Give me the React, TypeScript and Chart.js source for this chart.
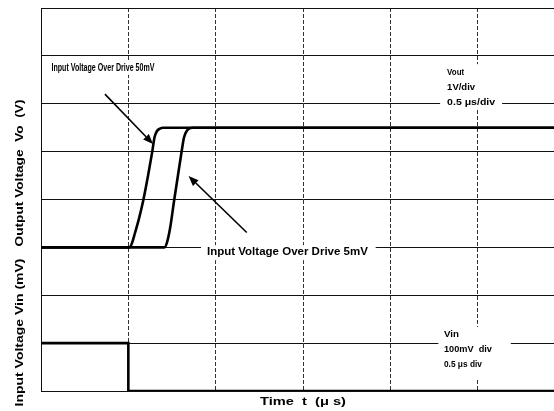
import React, { useEffect, useRef } from "react";
import { Chart, registerables } from "chart.js";

Chart.register(...registerables);

// Time axis (µs), 0.5 µs/div
const timeMinUs = 0;
const timeMaxUs = 3.0;
const timeStepUs = 0.5;

// Output voltage axis (V), 1 V/div
const voutMin = -3;
const voutMax = 5;
const voutStep = 1;

// Input voltage axis (mV), 100 mV/div
const vinMin = 0;
const vinMax = 800;

// Output waveform, input over-drive 50 mV
const od50Time = [0, 0.507, 0.521, 0.538, 0.561, 0.586, 0.613, 0.637, 0.65, 0.664, 0.681, 0.698, 3.0];
const od50Vout = [0, 0, 0.09, 0.3, 0.6, 0.99, 1.5, 2.0, 2.3, 2.43, 2.48, 2.5, 2.5];

// Output waveform, input over-drive 5 mV
const od5Time = [0, 0.707, 0.721, 0.739, 0.763, 0.784, 0.805, 0.819, 0.836, 0.853, 0.87, 3.0];
const od5Vout = [0, 0, 0.1, 0.4, 1.0, 1.5, 2.0, 2.3, 2.44, 2.49, 2.5, 2.5];

// Input step
const vinTime = [0, 0.5, 0.5, 3.0];
const vinMv = [100, 100, 0, 0];

const FONT = "'Liberation Sans', Arial, sans-serif";

function fitText(
  ctx: CanvasRenderingContext2D,
  text: string,
  x: number,
  y: number,
  width: number,
  size: number,
  align: "left" | "center" = "left",
  rotate = false
) {
  ctx.save();
  ctx.font = `bold ${size}px ${FONT}`;
  const w = ctx.measureText(text).width;
  const s = width / w;
  ctx.translate(x, y);
  if (rotate) ctx.rotate(-Math.PI / 2);
  ctx.scale(s, 1);
  ctx.textBaseline = "middle";
  ctx.textAlign = align;
  ctx.fillStyle = "#000";
  ctx.fillText(text, 0, 0);
  ctx.restore();
}

function arrow(ctx: CanvasRenderingContext2D, x1: number, y1: number, x2: number, y2: number) {
  const ang = Math.atan2(y2 - y1, x2 - x1);
  const len = 10;
  const hw = 4;
  const bx = x2 - len * Math.cos(ang);
  const by = y2 - len * Math.sin(ang);
  ctx.save();
  ctx.strokeStyle = "#000";
  ctx.fillStyle = "#000";
  ctx.lineWidth = 1.6;
  ctx.beginPath();
  ctx.moveTo(x1, y1);
  ctx.lineTo(bx, by);
  ctx.stroke();
  ctx.beginPath();
  ctx.moveTo(x2, y2);
  ctx.lineTo(bx + hw * Math.sin(ang), by - hw * Math.cos(ang));
  ctx.lineTo(bx - hw * Math.sin(ang), by + hw * Math.cos(ang));
  ctx.closePath();
  ctx.fill();
  ctx.restore();
}

const annotate = {
  id: "annotate",
  beforeDatasetsDraw(chart: any) {
    const ctx: CanvasRenderingContext2D = chart.ctx;
    const xs = chart.scales.x;
    const yo = chart.scales.yOut;
    const yi = chart.scales.yIn;
    const X = (t: number) => xs.getPixelForValue(t);
    const YO = (v: number) => yo.getPixelForValue(v);
    const YI = (v: number) => yi.getPixelForValue(v);

    // white label backgrounds (break the grid like the original)
    ctx.save();
    ctx.fillStyle = "#fff";
    const box = (l: number, t: number, r: number, b: number) => ctx.fillRect(l, t, r - l, b - t);
    box(X(0.05) - 2, YO(3.75) - 7, X(0.05) + 106, YO(3.75) + 7);
    box(X(0.916), YO(-0.1) - 7, X(1.916), YO(-0.1) + 8);
    box(X(2.285), YO(3.66) - 8, X(2.64), YO(3.02) + 7);
    box(X(2.275), YI(119) - 7, X(2.69), YI(55) + 14);
    ctx.restore();

    // in-plot labels
    fitText(ctx, "Input Voltage Over Drive 50mV", X(0.06), YO(3.75), 103, 10.5);
    fitText(ctx, "Input Voltage Over Drive 5mV", X(0.95), YO(-0.1), 161, 10.5);

    fitText(ctx, "Vout", X(2.325), YO(3.66), 17, 9);
    fitText(ctx, "1V/div", X(2.325), YO(3.34), 28, 9);
    fitText(ctx, "0.5 μs/div", X(2.325), YO(3.02), 48, 9);

    fitText(ctx, "Vin", X(2.307), YI(119), 15, 9);
    fitText(ctx, "100mV  div", X(2.307), YI(86.7), 48, 9);
    fitText(ctx, "0.5 μs div", X(2.307), YI(55.4), 38, 9);

    // axis titles
    fitText(ctx, "Output Voltage  Vo  (V)", 20, 173, 147, 11, "center", true);
    fitText(ctx, "Input Voltage Vin (mV)", 20, 332.5, 148, 11, "center", true);
    fitText(ctx, "Time  t  (μ s)", 303, 402, 86, 11, "center");
  },
  afterDatasetsDraw(chart: any) {
    const ctx: CanvasRenderingContext2D = chart.ctx;
    const xs = chart.scales.x;
    const yo = chart.scales.yOut;
    const X = (t: number) => xs.getPixelForValue(t);
    const YO = (v: number) => yo.getPixelForValue(v);
    arrow(ctx, X(0.366), YO(3.2), X(0.641), YO(2.16));
    arrow(ctx, X(1.178), YO(0.31), X(0.845), YO(1.49));
  },
};

export default function App() {
  const ref = useRef<HTMLCanvasElement | null>(null);

  useEffect(() => {
    if (!ref.current) return;
    const pts = (xs: number[], ys: number[]) => xs.map((x, i) => ({ x, y: ys[i] }));
    const chart = new Chart(ref.current, {
      type: "line",
      data: {
        datasets: [
          {
            label: "Vout (over drive 50mV)",
            data: pts(od50Time, od50Vout),
            yAxisID: "yOut",
            borderColor: "#000",
            borderWidth: 2.6,
            pointRadius: 0,
            cubicInterpolationMode: "monotone",
          },
          {
            label: "Vout (over drive 5mV)",
            data: pts(od5Time, od5Vout),
            yAxisID: "yOut",
            borderColor: "#000",
            borderWidth: 2.6,
            pointRadius: 0,
            cubicInterpolationMode: "monotone",
          },
          {
            label: "Vin",
            data: pts(vinTime, vinMv),
            yAxisID: "yIn",
            borderColor: "#000",
            borderWidth: 2.6,
            pointRadius: 0,
            tension: 0,
          },
        ],
      },
      options: {
        animation: false,
        responsive: false,
        maintainAspectRatio: false,
        layout: { padding: { left: 41, right: 10, top: 8, bottom: 20 } },
        plugins: { legend: { display: false }, tooltip: { enabled: false } },
        scales: {
          x: {
            type: "linear",
            min: timeMinUs,
            max: timeMaxUs,
            ticks: { stepSize: timeStepUs, display: false },
            grid: { color: "#333", lineWidth: 1, drawTicks: false },
            border: { display: true, color: "#111", width: 1, dash: [4, 2] },
          },
          yOut: {
            type: "linear",
            position: "left",
            min: voutMin,
            max: voutMax,
            ticks: { stepSize: voutStep, display: false },
            grid: { color: "#111", lineWidth: 1, drawTicks: false },
            border: { display: true, color: "#111", width: 1 },
          },
          yIn: {
            type: "linear",
            position: "left",
            display: false,
            min: vinMin,
            max: vinMax,
          },
        },
      },
      plugins: [annotate],
    });
    return () => chart.destroy();
  }, []);

  return (
    <div style={{ position: "fixed", left: 0, top: 0, width: 554, height: 411, overflow: "hidden", background: "#fff" }}>
      <canvas ref={ref} width={575} height={411} style={{ display: "block" }} />
    </div>
  );
}
